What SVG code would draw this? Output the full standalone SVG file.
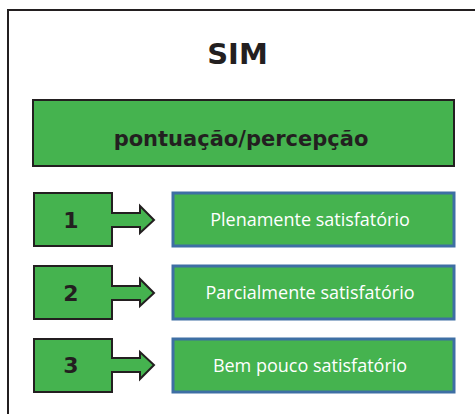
<svg xmlns="http://www.w3.org/2000/svg" width="475" height="414" viewBox="0 0 475 414">
<style>
.g{fill:#45b34f}
.dk{stroke:#231f20;stroke-width:2}
.bl{stroke:#3e6fa4;stroke-width:3}
.hb{font-family:"DejaVu Sans","Liberation Sans",Arial,sans-serif;font-weight:bold;fill:#231f20;text-anchor:middle}
.lb{font-family:"Open Sans","Noto Sans",sans-serif;fill:#ffffff;text-anchor:middle;font-size:18px}
</style>
<rect width="475" height="414" fill="#ffffff"/>
<path d="M8,414 V10 H475" fill="none" stroke="#231f20" stroke-width="2"/>
<g id="title"><text class="hb" x="237.5" y="64" font-size="29">SIM</text></g>
<g id="header">
<rect class="g dk" x="33" y="100" width="421" height="66"/>
<text class="hb" x="241" y="146" font-size="21">pontuação/percepção</text>
</g>
<g id="n1">
<polygon class="g dk" points="34,193 112,193 112,213 140,213 140,206 154,220 140,233 140,227 112,227 112,246 34,246"/>
<text class="hb" x="71" y="228" font-size="22">1</text>
</g>
<g id="n2">
<polygon class="g dk" points="34,266 112,266 112,286 140,286 140,279 154,293 140,306 140,300 112,300 112,319 34,319"/>
<text class="hb" x="71" y="301" font-size="22">2</text>
</g>
<g id="n3">
<polygon class="g dk" points="34,339 112,339 112,358 140,358 140,352 154,365 140,379 140,372 112,372 112,392 34,392"/>
<text class="hb" x="71" y="373" font-size="22">3</text>
</g>
<g id="r1">
<rect class="g bl" x="173" y="193" width="281" height="53"/>
<text class="lb" x="310" y="226">Plenamente satisfatório</text>
</g>
<g id="r2">
<rect class="g bl" x="173" y="266" width="281" height="53"/>
<text class="lb" x="310" y="299">Parcialmente satisfatório</text>
</g>
<g id="r3">
<rect class="g bl" x="173" y="339" width="281" height="53"/>
<text class="lb" x="310" y="372">Bem pouco satisfatório</text>
</g>
<g id="connectors"></g>
</svg>
